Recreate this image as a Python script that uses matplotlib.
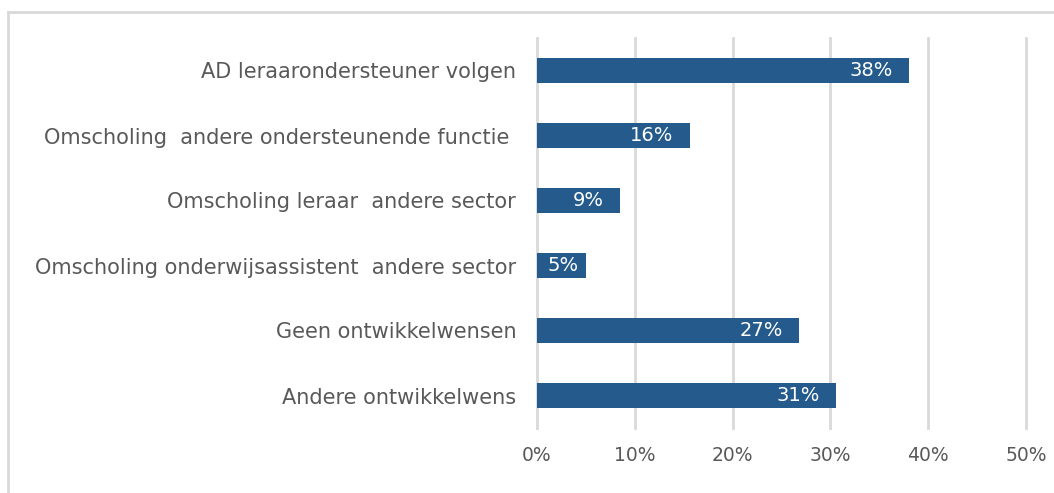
import matplotlib
matplotlib.use("Agg")
import matplotlib.pyplot as plt
from matplotlib.lines import Line2D
from matplotlib.ticker import FuncFormatter

categories = [
    "AD leraarondersteuner volgen",
    "Omscholing  andere ondersteunende functie ",
    "Omscholing leraar  andere sector",
    "Omscholing onderwijsassistent  andere sector",
    "Geen ontwikkelwensen",
    "Andere ontwikkelwens",
]
values = [0.38, 0.156, 0.085, 0.05, 0.268, 0.306]
labels = ["38%", "16%", "9%", "5%", "27%", "31%"]
xticks = [0, 0.1, 0.2, 0.3, 0.4, 0.5]

plt.rcParams['font.family'] = ['DejaVu Sans']
bar_color = "#255B8C"
text_color = "#595959"

fig = plt.figure(figsize=(10.54, 4.93), dpi=100)
ax = fig.add_axes([537/1054, 1-428/493, (1026-537)/1054, (428-38)/493])

y = list(range(len(categories)))
bars = ax.barh(y, values, height=0.39, color=bar_color, zorder=3)
ax.set_ylim(len(categories)-0.5, -0.5)
ax.set_xlim(0, 0.5)
ax.set_xticks(xticks)
ax.xaxis.set_major_formatter(FuncFormatter(lambda v, p: f"{v*100:.0f}%"))
ax.set_yticks(y)
ax.set_yticklabels(categories)
ax.tick_params(axis='x', length=0, labelsize=13.5, colors=text_color, pad=13)
ax.tick_params(axis='y', length=0, labelsize=15, colors=text_color, pad=15)
ax.grid(axis='x', color="#D9D9D9", linewidth=2, zorder=0)
for gl in ax.get_xgridlines():
    gl.set_clip_on(False)
for s in ax.spines.values():
    s.set_visible(False)

axis_px = (1026 - 537)
for b, lab in zip(bars, labels):
    w = b.get_width()
    yc = b.get_y() + b.get_height()/2
    bar_px = w / 0.5 * axis_px
    if bar_px < 60:
        ax.annotate(lab, (w/2, yc), xytext=(2, 0), textcoords='offset pixels',
                    ha='center', va='center', color='white', fontsize=14, zorder=4)
    else:
        ax.annotate(lab, (w, yc), xytext=(-16, 0), textcoords='offset pixels',
                    ha='right', va='center', color='white', fontsize=14, zorder=4)

fig.add_artist(Line2D([8/1054, 8/1054], [0, 1-12/493], transform=fig.transFigure, color="#D9D9D9", linewidth=2))
fig.add_artist(Line2D([8/1054, 1], [1-12/493, 1-12/493], transform=fig.transFigure, color="#D9D9D9", linewidth=2))

fig.savefig("out.png", dpi=100)
